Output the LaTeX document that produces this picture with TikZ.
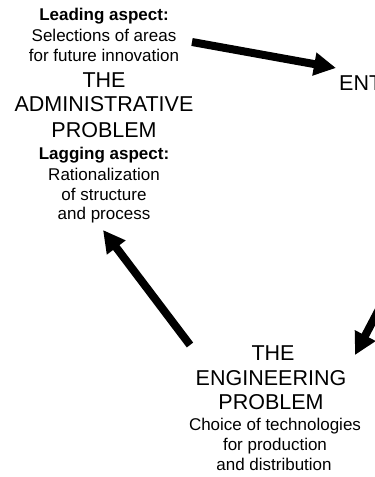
\documentclass[tikz,border=0pt]{standalone}
\usepackage{fontspec}
\setmainfont{Liberation Sans}
\usetikzlibrary{arrows.meta}
\begin{document}
\begin{tikzpicture}[x=1pt,y=-1pt,
  small/.style={anchor=base,inner sep=0pt,font=\fontsize{17}{20}\selectfont},
  smallb/.style={anchor=base,inner sep=0pt,font=\fontsize{17}{20}\selectfont\bfseries},
  big/.style={anchor=base,inner sep=0pt,font=\fontsize{21.5}{25}\selectfont},
  bigarrow/.style={line width=8pt,-{Triangle[length=22pt,width=22pt]}}]
\useasboundingbox (0,0) rectangle (375,477);
\clip (0,0) rectangle (375,477);
% administrative problem
\node[smallb] (lead1) at (104,20) {Leading aspect:};
\node[small]  (lead2) at (104,41) {Selections of areas};
\node[small]  (lead3) at (104,61) {for future innovation};
\node[big]    (adm1) at (104,87) {THE};
\node[big]    (adm2) at (104,111) {ADMINISTRATIVE};
\node[big]    (adm3) at (104,137) {PROBLEM};
\node[smallb] (lag1) at (104,159) {Lagging aspect:};
\node[small]  (lag2) at (104,180) {Rationalization};
\node[small]  (lag3) at (104,200) {of structure};
\node[small]  (lag4) at (104,219) {and process};
% entrepreneurial (cut)
\node[big,anchor=base west] (ent) at (339,90) {ENT};
% engineering problem
\node[big]   (eng1) at (273,360) {THE};
\node[big]   (eng2) at (271,385) {ENGINEERING};
\node[big]   (eng3) at (271,409) {PROBLEM};
\node[small] (engs1) at (275,430) {Choice of technologies};
\node[small] (engs2) at (275,450) {for production};
\node[small] (engs3) at (274,470) {and distribution};
% arrows
\coordinate (a1s) at (192,42);
\coordinate (a1e) at (336,68);
\coordinate (a2s) at (386,296);
\coordinate (a2e) at (355,355);
\coordinate (a3s) at (190,345);
\coordinate (a3e) at (103,230);
\draw[bigarrow] (a1s) -- (a1e);
\draw[bigarrow] (a2s) -- (a2e);
\draw[bigarrow] (a3s) -- (a3e);
\end{tikzpicture}
\end{document}
